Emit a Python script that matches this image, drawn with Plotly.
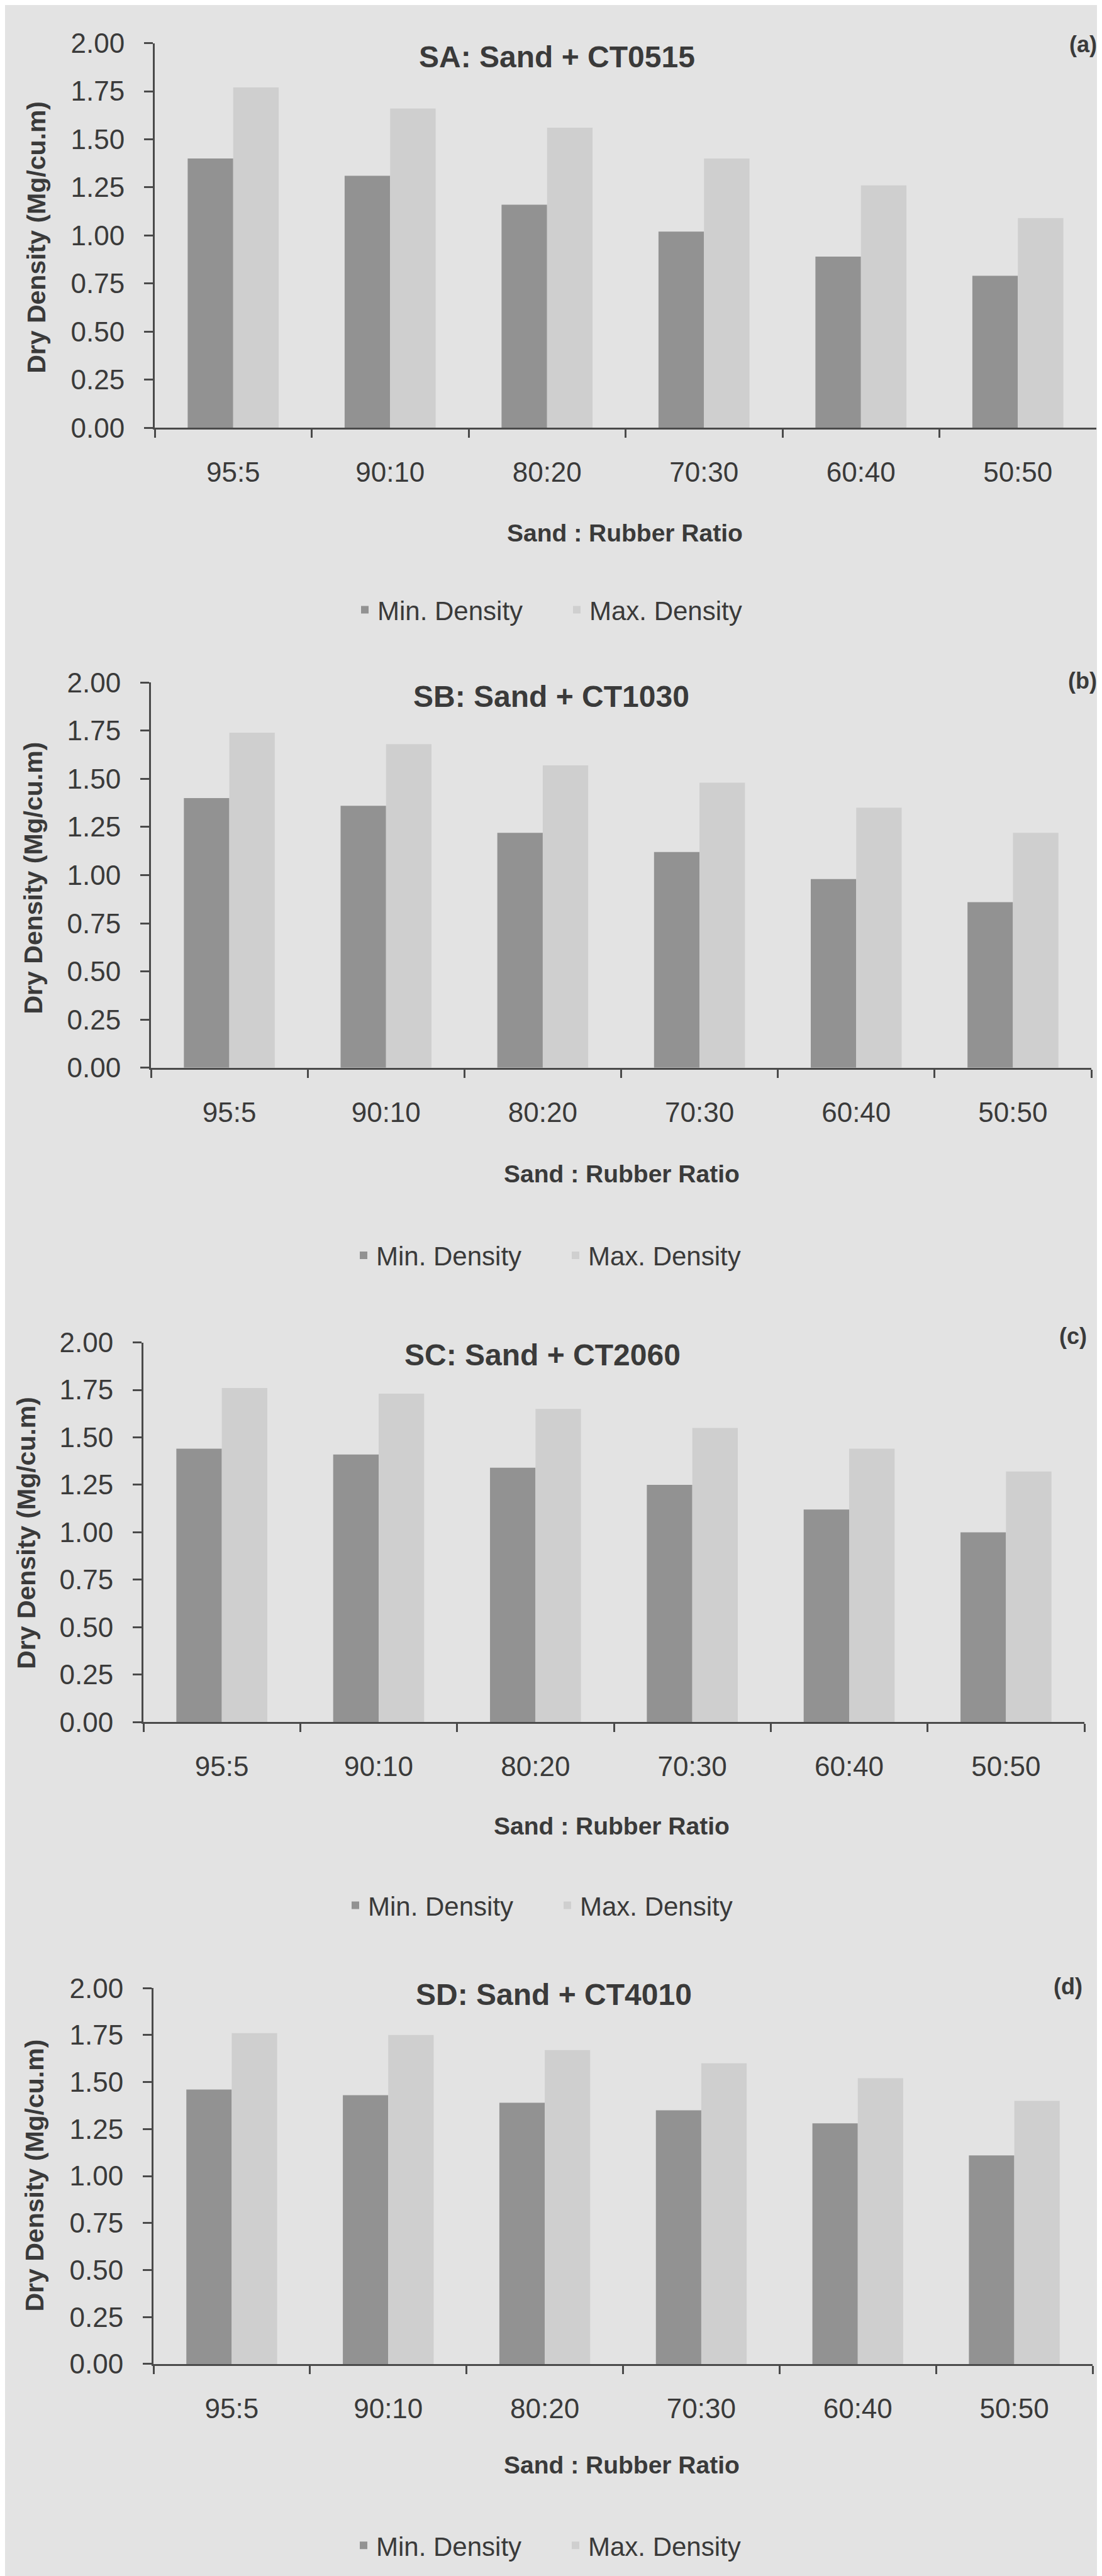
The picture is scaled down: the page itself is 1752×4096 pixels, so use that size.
import plotly.graph_objects as go

W, H = 1752, 4096

categories = ["95:5", "90:10", "80:20", "70:30", "60:40", "50:50"]
titles = ["SA: Sand + CT0515", "SB: Sand + CT1030", "SC: Sand + CT2060", "SD: Sand + CT4010"]
panel_labels = ["(a)", "(b)", "(c)", "(d)"]
series_names = ["Min. Density", "Max. Density"]
y_ticks = [0.0, 0.25, 0.5, 0.75, 1.0, 1.25, 1.5, 1.75, 2.0]

min_sa = [1.40, 1.31, 1.16, 1.02, 0.89, 0.79]
max_sa = [1.77, 1.66, 1.56, 1.40, 1.26, 1.09]
min_sb = [1.40, 1.36, 1.22, 1.12, 0.98, 0.86]
max_sb = [1.74, 1.68, 1.57, 1.48, 1.35, 1.22]
min_sc = [1.44, 1.41, 1.34, 1.25, 1.12, 1.00]
max_sc = [1.76, 1.73, 1.65, 1.55, 1.44, 1.32]
min_sd = [1.46, 1.43, 1.39, 1.35, 1.28, 1.11]
max_sd = [1.76, 1.75, 1.67, 1.60, 1.52, 1.40]

mins = [min_sa, min_sb, min_sc, min_sd]
maxs = [max_sa, max_sb, max_sc, max_sd]

# layout geometry in output pixels
plots = [  # x0, x1, ytop, ybottom
    (238, 1735, 36, 655),
    (232, 1727, 1065, 1685),
    (220, 1716, 2127, 2738),
    (236, 1729, 3166, 3771),
]
title_pos = [(877, 58), (868, 1088), (854, 2147), (872, 3176)]
label_pos = [(1714, 38), (1713, 1062), (1698, 2117), (1690, 3163)]
xtitle_pos = [(985, 824), (980, 1856), (964, 2905), (980, 3934)]
ytitle_pos = [(50, 349), (45, 1380), (34, 2434), (47, 3468)]
legend_left = [552, 550, 537, 550]
legend_y = [948, 1987, 3033, 4063]

FONT = "Liberation Sans, Arial, sans-serif"
TXT = "#3a3a3a"
BG = "#e3e3e3"
C_MIN = "#929292"
C_MAX = "#cfcfcf"
AX = "#4a4a4a"


def px_x(v):
    return v / W


def px_y(v):
    return 1 - v / H


fig = go.Figure()
annotations = []
layout_axes = {}

for i in range(4):
    sfx = "" if i == 0 else str(i + 1)
    xa, ya = "x" + sfx, "y" + sfx
    leg = "legend" + sfx
    fig.add_trace(go.Bar(x=categories, y=mins[i], name=series_names[0],
                         marker=dict(color=C_MIN, line=dict(width=0)),
                         xaxis=xa, yaxis=ya, legend=leg))
    fig.add_trace(go.Bar(x=categories, y=maxs[i], name=series_names[1],
                         marker=dict(color=C_MAX, line=dict(width=0)),
                         xaxis=xa, yaxis=ya, legend=leg))
    x0, x1, yt, yb = plots[i]
    layout_axes["xaxis" + sfx] = dict(
        domain=[px_x(x0), px_x(x1)], anchor=ya, type="category",
        showline=True, linecolor=AX, linewidth=3, mirror=False,
        ticks="outside", tickson="boundaries", ticklen=13, tickwidth=3, tickcolor=AX,
        tickfont=dict(family=FONT, size=44, color=TXT),
        ticklabelstandoff=30, showgrid=False, zeroline=False,
        range=[-0.5, 5.5], fixedrange=True,
    )
    layout_axes["yaxis" + sfx] = dict(
        domain=[px_y(yb), px_y(yt)], anchor=xa, range=[0, 2],
        tickvals=y_ticks, tickformat=".2f",
        showline=True, linecolor=AX, linewidth=3,
        ticks="outside", ticklen=14, tickwidth=3, tickcolor=AX,
        tickfont=dict(family=FONT, size=44, color=TXT),
        ticklabelstandoff=22, showgrid=False, zeroline=False, fixedrange=True,
    )
    layout_axes[leg] = dict(
        orientation="h", x=px_x(legend_left[i]), y=px_y(legend_y[i]),
        xanchor="left", yanchor="middle",
        font=dict(family=FONT, size=42, color=TXT), bgcolor="rgba(0,0,0,0)",
        itemwidth=30, traceorder="normal", entrywidth=292, entrywidthmode="pixels",
    )
    tx, ty = title_pos[i]
    annotations.append(dict(text="<b>" + titles[i] + "</b>", x=px_x(tx), y=px_y(ty),
                            xref="paper", yref="paper", xanchor="center", yanchor="middle",
                            showarrow=False, font=dict(family=FONT, size=48, color=TXT)))
    lx, ly = label_pos[i]
    annotations.append(dict(text="<b>" + panel_labels[i] + "</b>", x=px_x(lx), y=px_y(ly),
                            xref="paper", yref="paper", xanchor="center", yanchor="middle",
                            showarrow=False, font=dict(family=FONT, size=36, color=TXT)))
    xx, xy = xtitle_pos[i]
    annotations.append(dict(text="<b>Sand : Rubber Ratio</b>", x=px_x(xx), y=px_y(xy),
                            xref="paper", yref="paper", xanchor="center", yanchor="middle",
                            showarrow=False, font=dict(family=FONT, size=39, color=TXT)))
    yx, yy = ytitle_pos[i]
    annotations.append(dict(text="<b>Dry Density (Mg/cu.m)</b>", x=px_x(yx), y=px_y(yy),
                            xref="paper", yref="paper", xanchor="center", yanchor="middle",
                            textangle=-90, showarrow=False,
                            font=dict(family=FONT, size=41, color=TXT)))

fig.update_layout(
    width=W, height=H,
    margin=dict(l=0, r=0, t=0, b=0),
    paper_bgcolor=BG, plot_bgcolor=BG,
    barmode="group", bargap=0.42, bargroupgap=0.0,
    showlegend=True,
    annotations=annotations,
    **layout_axes,
)

fig.write_html("out.html")
